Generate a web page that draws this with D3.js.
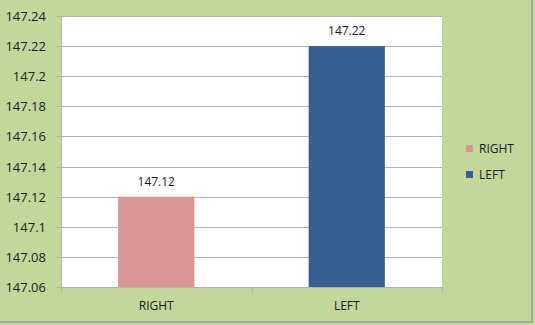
<!DOCTYPE html>
<html lang="en">
<head>
<meta charset="UTF-8">
<title>RIGHT vs LEFT</title>
<script src="https://d3js.org/d3.v7.min.js"></script>
<style>
    body { margin: 0; background: #c4d79b; }
    svg { display: block; font-family: "Open Sans", "Liberation Sans", sans-serif; }
</style>
</head>
<body>
<div id="chart"></div>
<script>
    const categories = ["RIGHT", "LEFT"];
    const values = [147.12, 147.22];
    const colors = ["#d99594", "#366092"];
    const yTicks = [147.06, 147.08, 147.1, 147.12, 147.14, 147.16, 147.18, 147.2, 147.22, 147.24];

    const width = 535, height = 325;
    const margin = { top: 16, right: 93, bottom: 38, left: 61 };

    const svg = d3.select("#chart").append("svg")
        .attr("width", width)
        .attr("height", height);

    svg.append("rect")
        .attr("x", -1).attr("y", -1)
        .attr("width", width - 2).attr("height", height - 2)
        .attr("fill", "#c4d79b")
        .attr("stroke", "#a6a6a6")
        .attr("stroke-width", 2);

    const x = d3.scaleBand()
        .domain(categories)
        .range([margin.left, width - margin.right])
        .paddingInner(0.6)
        .paddingOuter(0.3);

    const y = d3.scaleLinear()
        .domain([147.06, 147.24])
        .range([height - margin.bottom, margin.top]);

    // plot area
    svg.append("rect")
        .attr("x", margin.left)
        .attr("y", margin.top)
        .attr("width", width - margin.left - margin.right)
        .attr("height", height - margin.top - margin.bottom)
        .attr("fill", "#fff");

    // gridlines
    svg.append("g")
        .selectAll("line")
        .data(yTicks)
        .join("line")
        .attr("x1", margin.left - 5)
        .attr("x2", width - margin.right)
        .attr("y1", d => Math.round(y(d)) + 0.5)
        .attr("y2", d => Math.round(y(d)) + 0.5)
        .attr("stroke", "#b3b3b3");

    svg.append("line")
        .attr("x1", margin.left + 0.5).attr("x2", margin.left + 0.5)
        .attr("y1", margin.top).attr("y2", height - margin.bottom)
        .attr("stroke", "#b3b3b3");

    // y labels
    svg.append("g")
        .selectAll("text")
        .data(yTicks)
        .join("text")
        .attr("x", 46)
        .attr("y", d => y(d) + 5)
        .attr("text-anchor", "end")
        .attr("font-size", 13)
        .attr("fill", "#1a1a1a")
        .text(d => d);

    // x ticks
    const xEdges = [margin.left, margin.left + (width - margin.left - margin.right) / 2, width - margin.right];
    svg.append("g")
        .selectAll("line")
        .data(xEdges)
        .join("line")
        .attr("x1", d => Math.round(d) + 0.5)
        .attr("x2", d => Math.round(d) + 0.5)
        .attr("y1", height - margin.bottom)
        .attr("y2", height - margin.bottom + 5)
        .attr("stroke", "#b3b3b3");

    // bars
    svg.append("g")
        .selectAll("rect")
        .data(categories)
        .join("rect")
        .attr("x", d => x(d))
        .attr("y", (d, i) => y(values[i]))
        .attr("width", x.bandwidth())
        .attr("height", (d, i) => y.range()[0] - y(values[i]))
        .attr("fill", (d, i) => colors[i]);

    // value labels
    svg.append("g")
        .selectAll("text")
        .data(categories)
        .join("text")
        .attr("x", d => x(d) + x.bandwidth() / 2)
        .attr("y", (d, i) => y(values[i]) - 11)
        .attr("text-anchor", "middle")
        .attr("font-size", 12)
        .attr("fill", "#1a1a1a")
        .text((d, i) => values[i]);

    // category labels
    svg.append("g")
        .selectAll("text")
        .data(categories)
        .join("text")
        .attr("x", d => x(d) + x.bandwidth() / 2)
        .attr("y", 310)
        .attr("text-anchor", "middle")
        .attr("font-size", 12)
        .attr("fill", "#1a1a1a")
        .text(d => d);

    // legend
    const legend = svg.append("g")
        .selectAll("g")
        .data(categories)
        .join("g")
        .attr("transform", (d, i) => `translate(466,${145 + i * 26})`);
    legend.append("rect")
        .attr("width", 7).attr("height", 7)
        .attr("fill", (d, i) => colors[i]);
    legend.append("text")
        .attr("x", 13)
        .attr("y", 8)
        .attr("font-size", 12)
        .attr("fill", "#1a1a1a")
        .text(d => d);
</script>
</body>
</html>
